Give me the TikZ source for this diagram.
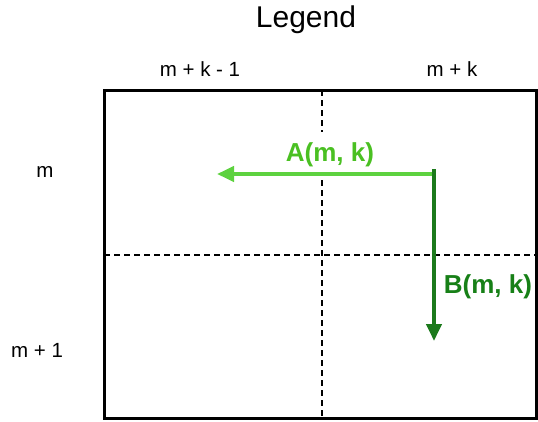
\documentclass[tikz,border=0pt]{standalone}
\usepackage{fontspec}
\setmainfont{Liberation Sans}
\usepackage{xcolor}
\usetikzlibrary{positioning,arrows.meta,calc}
\definecolor{readLight}{HTML}{5DD23F}
\definecolor{readText}{HTML}{4AC022}
\definecolor{readDark}{HTML}{1C7A1C}
\definecolor{readDarkText}{HTML}{178017}

\begin{document}
\begin{tikzpicture}[
  x=1pt, y=-1pt,
  lbl/.style={font=\fontsize{20.5}{23}\selectfont, anchor=base},
  title/.style={font=\fontsize{30}{34}\selectfont, anchor=base},
  grid/.style={draw, line width=3pt},
  sep/.style={dash pattern=on 6pt off 4pt, line width=2.3pt},
  arr/.style={-{Triangle[length=17pt,width=15pt]}, line width=4pt},
  tag/.style={font=\bfseries\fontsize{26}{29}\selectfont, anchor=base},
]
  \useasboundingbox (0,0) rectangle (538,421);
  % frame and split lines
  \coordinate (tl) at (104,90);
  \coordinate (br) at (536,418);
  \draw[grid] (tl) rectangle (br);
  \coordinate (vtop) at (322,90);
  \coordinate (vbot) at (322,418);
  \coordinate (hleft) at (104,255);
  \coordinate (hright) at (536,255);
  \draw[sep] (vtop) -- (vbot);
  \draw[sep] (hleft) -- (hright);

  % headings
  \node[title] (legend) at (306,27) {Legend};
  \node[lbl] (colA) at (200,76) {m + k - 1};
  \node[lbl] (colB) at (452,76) {m + k};
  \node[lbl] (rowA) at (45,177) {m};
  \node[lbl] (rowB) at (37,357) {m + 1};

  % the two reads
  \node[tag, anchor=center, fill=white, minimum height=46pt, inner xsep=2pt,
    text=readText] (tagA) at (330,155) {A(m, k)};
  \coordinate (src) at (434,174);
  \coordinate (srcTop) at (434,169);
  \coordinate (leftEnd) at (217,174);
  \coordinate (downEnd) at (434,341);
  \draw[arr, readLight] (src) -- (leftEnd);
  \draw[arr, readDark] (srcTop) -- (downEnd);
  \node[tag, text=readDarkText] (tagB) at (488,293) {B(m, k)};
\end{tikzpicture}
\end{document}
